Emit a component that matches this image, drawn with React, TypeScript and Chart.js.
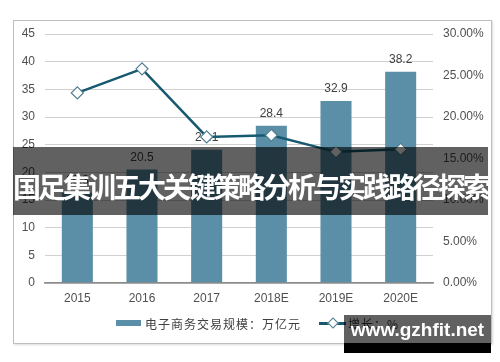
import React, { useEffect, useRef } from "react";
import { Chart, registerables } from "chart.js";

Chart.register(...registerables);

const categories = ["2015", "2016", "2017", "2018E", "2019E", "2020E"];
const scaleValues = [16.3, 20.5, 24.1, 28.4, 32.9, 38.2];
const growthValues = [22.9, 25.8, 17.6, 17.8, 15.8, 16.1];
const barLabel = "电子商务交易规模：万亿元";
const lineLabel = "增长：%";
const bannerText = "国足集训五大关键策略分析与实践路径探索";
const watermarkText = "www.gzhfit.net";

const BAR_COLOR = "#5b8fa8";
const LINE_COLOR = "#175a70";
const TICK_COLOR = "#505050";
const FONT = "'Liberation Sans', Arial, sans-serif";
const CJK = "'Noto Sans CJK SC', sans-serif";

const barLabelPlugin = {
  id: "barLabels",
  afterDatasetDraw(chart: any, args: any) {
    if (args.index !== 0) return;
    const { ctx } = chart;
    const meta = chart.getDatasetMeta(0);
    ctx.save();
    ctx.font = `12px ${FONT}`;
    ctx.fillStyle = "#404040";
    ctx.textAlign = "center";
    ctx.textBaseline = "middle";
    meta.data.forEach((el: any, i: number) => {
      ctx.fillText(scaleValues[i].toFixed(1), el.x, el.y - 12);
    });
    ctx.restore();
  },
};

export default function App() {
  const ref = useRef<HTMLCanvasElement>(null);
  useEffect(() => {
    document.body.style.margin = "0";
    const chart = new Chart(ref.current!, {
      type: "bar",
      data: {
        labels: categories,
        datasets: [
          {
            type: "bar",
            label: barLabel,
            data: scaleValues,
            backgroundColor: BAR_COLOR,
            yAxisID: "y",
            barPercentage: 0.96,
            categoryPercentage: 0.5,
            order: 1,
          },
          {
            type: "line",
            label: lineLabel,
            data: growthValues,
            borderColor: LINE_COLOR,
            borderWidth: 2.5,
            pointStyle: "rectRot",
            pointRadius: 6,
            pointBackgroundColor: "#ffffff",
            pointBorderColor: "#4f7f92",
            pointBorderWidth: 1.2,
            yAxisID: "y1",
            order: 0,
          } as any,
        ],
      },
      options: {
        animation: false,
        responsive: false,
        layout: { padding: { left: 13, right: 9, top: 34, bottom: 49 } },
        plugins: { legend: { display: false }, tooltip: { enabled: false } },
        scales: {
          x: {
            grid: { display: false, drawTicks: false },
            border: { display: true, color: "#8c8c8c", width: 1.5 },
            ticks: { color: TICK_COLOR, font: { family: FONT, size: 12 }, padding: 8 },
            afterFit(s: any) { s.height = 30; },
          },
          y: {
            position: "left",
            min: 0,
            max: 45,
            ticks: { stepSize: 5, color: TICK_COLOR, font: { family: FONT, size: 12 }, padding: 10 },
            grid: {
              drawTicks: false,
              color: (c: any) => (c.tick && c.tick.value === 0 ? "#8c8c8c" : "#d0d0d0"),
              lineWidth: (c: any) => (c.tick && c.tick.value === 0 ? 1.5 : 1),
            },
            border: { display: false },
            afterFit(s: any) { s.width = 32; },
          },
          y1: {
            position: "right",
            min: 0,
            max: 30,
            ticks: {
              stepSize: 5,
              color: TICK_COLOR,
              font: { family: FONT, size: 12 },
              padding: 10,
              callback: (v: any) => Number(v).toFixed(2) + "%",
            },
            grid: { display: false, drawTicks: false },
            border: { display: false },
            afterFit(s: any) { s.width = 58; },
          },
        },
      },
      plugins: [barLabelPlugin],
    } as any);
    return () => chart.destroy();
  }, []);

  return (
    <div style={{ position: "relative", width: 500, height: 362, background: "#fff", overflow: "hidden" }}>
      <div
        style={{
          position: "absolute",
          left: 13,
          top: 20,
          width: 477,
          height: 322,
          border: "1px solid #bfbfbf",
          boxShadow: "1px 1px 2px rgba(0,0,0,0.15)",
        }}
      />
      <canvas ref={ref} width={500} height={362} style={{ position: "absolute", left: 0, top: 0 }} />
      <div
        style={{
          position: "absolute",
          left: 116,
          top: 316,
          height: 14,
          display: "flex",
          alignItems: "center",
          fontFamily: CJK,
          fontSize: 12,
          color: "#404040",
          whiteSpace: "nowrap",
        }}
      >
        <span style={{ display: "inline-block", width: 25, height: 6, background: BAR_COLOR, marginRight: 4 }} />
        <span style={{ letterSpacing: 1 }}>{barLabel}</span>
        <span style={{ position: "relative", display: "inline-block", width: 27, height: 14, marginLeft: 18, marginRight: 2 }}>
          <span style={{ position: "absolute", left: 0, top: 6, width: 27, height: 2.5, background: LINE_COLOR }} />
          <span
            style={{
              position: "absolute",
              left: 10,
              top: 3,
              width: 6,
              height: 6,
              background: "#fff",
              border: "1px solid #4f7f92",
              transform: "rotate(45deg)",
            }}
          />
        </span>
        <span style={{ letterSpacing: 1 }}>{lineLabel}</span>
      </div>
      <div
        style={{
          position: "absolute",
          left: 13,
          top: 147,
          width: 475,
          height: 68,
          background: "rgba(0,0,0,0.62)",
          display: "flex",
          alignItems: "center",
          justifyContent: "center",
          color: "#fff",
          fontFamily: CJK,
          fontWeight: 700,
          fontSize: 28,
          letterSpacing: -3,
          whiteSpace: "nowrap",
          paddingTop: 9,
          boxSizing: "border-box",
        }}
      >
        {bannerText}
      </div>
      <div
        style={{
          position: "absolute",
          left: 344,
          top: 315,
          width: 147,
          height: 28,
          background: "rgba(0,0,0,0.62)",
          color: "#fff",
          fontFamily: FONT,
          fontWeight: 700,
          fontSize: 19,
          textAlign: "center",
          lineHeight: "30px",
          whiteSpace: "nowrap",
        }}
      >
        {watermarkText}
      </div>
      <div style={{ position: "absolute", left: 344, top: 343, width: 147, height: 10, background: "#000" }} />
    </div>
  );
}
